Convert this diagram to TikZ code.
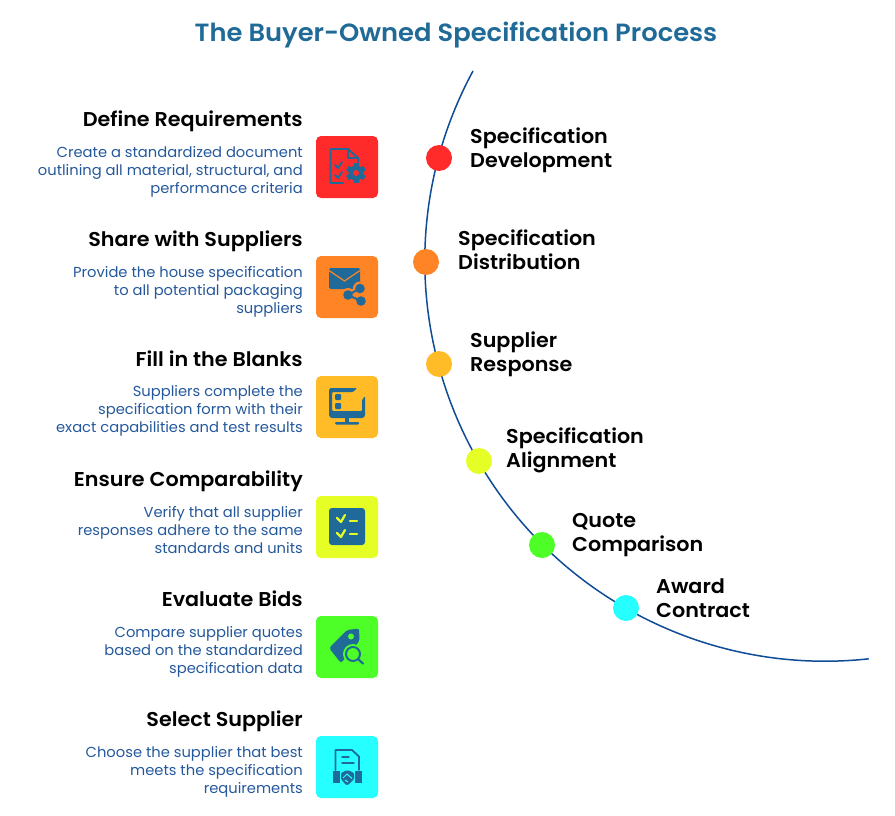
\documentclass[tikz,border=0pt]{standalone}
\usepackage{fontspec}
\setmainfont{Poppins}
\newfontfamily\headfont[FakeStretch=1.035]{Poppins SemiBold}
\newfontfamily\descfont[FakeStretch=1.015]{Poppins}
\definecolor{titleblue}{HTML}{1F6A96}
\definecolor{descblue}{HTML}{24589C}
\definecolor{iconblue}{HTML}{1F6A99}
\definecolor{arcblue}{HTML}{0F4C96}
\definecolor{cRed}{HTML}{FF2A2A}
\definecolor{cOrange}{HTML}{FF8426}
\definecolor{cAmber}{HTML}{FFBC26}
\definecolor{cLime}{HTML}{E5FF26}
\definecolor{cGreen}{HTML}{4DFF26}
\definecolor{cCyan}{HTML}{26FFFF}
\tikzset{
 x=1pt,y=-1pt,
 heading/.style={anchor=east,inner sep=0pt,font=\fontsize{20}{22}\selectfont\headfont,text=black},
 desc/.style={anchor=east,align=right,inner sep=0pt,font=\fontsize{14.5}{18}\selectfont\descfont,text=descblue},
 tile/.style={minimum size=62pt,inner sep=0pt,rounded corners=5pt,fill=#1},
 dot/.style={circle,minimum size=26pt,inner sep=0pt,fill=#1},
 stagelabel/.style={anchor=west,align=left,inner sep=0pt,font=\fontsize{20}{24}\selectfont\headfont,text=black},
 icol/.style={draw=iconblue,line width=1.8pt,line cap=round,line join=round},
}
\begin{document}
\begin{tikzpicture}
\useasboundingbox (0,0) rectangle (895,816);
\node[inner sep=0pt,font=\fontsize{24.9}{28}\selectfont\headfont,text=titleblue] (title) at (456,35) {The Buyer-Owned Specification Process};
\coordinate (arcstart) at (473,71);
\draw[arcblue,line width=1.5pt] (arcstart) arc[start angle=208.4,end angle=83.7,radius=400] coordinate (arcend);
% dots
\node[dot=cRed] (d1) at (439,158) {};
\node[dot=cOrange] (d2) at (426,262) {};
\node[dot=cAmber] (d3) at (439,364) {};
\node[dot=cLime] (d4) at (479,461) {};
\node[dot=cGreen] (d5) at (542,545) {};
\node[dot=cCyan] (d6) at (626,608) {};
\node[stagelabel] (s1) at (470,150) {Specification\\Development};
\node[stagelabel] (s2) at (458,250) {Specification\\Distribution};
\node[stagelabel] (s3) at (470,354) {Supplier\\Response};
\node[stagelabel] (s4) at (506,450) {Specification\\Alignment};
\node[stagelabel] (s5) at (572,535) {Quote\\Comparison};
\node[stagelabel] (s6) at (656,598) {Award\\Contract};
% tiles
\node[tile=cRed] (t1) at (347,167) {};
\node[tile=cOrange] (t2) at (347,287) {};
\node[tile=cAmber] (t3) at (347,407) {};
\node[tile=cLime] (t4) at (347,527) {};
\node[tile=cGreen] (t5) at (347,647) {};
\node[tile=cCyan] (t6) at (347,767) {};
% headings
\node[heading] (h1) at (303,121) {Define Requirements};
\node[heading] (h2) at (303,241) {Share with Suppliers};
\node[heading] (h3) at (303,359) {Fill in the Blanks};
\node[heading] (h4) at (303,481) {Ensure Comparability};
\node[heading] (h5) at (303,599) {Evaluate Bids};
\node[heading] (h6) at (303,721) {Select Supplier};
\node[desc] (p1) at (303,172) {Create a standardized document\\outlining all material, structural, and\\performance criteria};
\node[desc] (p2) at (303,292) {Provide the house specification\\to all potential packaging\\suppliers};
\node[desc] (p3) at (303,411) {Suppliers complete the\\specification form with their\\exact capabilities and test results};
\node[desc] (p4) at (303,530) {Verify that all supplier\\responses adhere to the same\\standards and units};
\node[desc] (p5) at (303,652) {Compare supplier quotes\\based on the standardized\\specification data};
\node[desc] (p6) at (303,772) {Choose the supplier that best\\meets the specification\\requirements};
% icon 1: document + gear
\draw[icol] (358,162) -- (358,158) -- (348,149) -- (330.5,149) -- (330.5,183) -- (343,183);
\draw[icol,line width=1.2pt] (348,149) -- (348,158) -- (358,158);
\draw[icol] (335,165) -- (338,168) -- (342,162);
\draw[icol] (335,175) -- (338,178) -- (342,172);
\fill[iconblue] (356,173) circle (7.5);
\foreach \a in {0,60,...,300}{\fill[iconblue,shift={(356,173)},rotate=\a] (-2.5,-10) rectangle (2.5,-6);}
\fill[cRed] (356,173) circle (3);
% icon 2: envelope + share
\fill[iconblue,rounded corners=1.5pt] (329,268) rectangle (360,289);
\draw[cOrange,line width=1.2pt] (329,270.5) -- (344.5,281) -- (360,270.5);
\fill[cOrange] (360,288.5) circle (7);
\fill[cOrange] (348,295) circle (7);
\draw[iconblue,line width=2pt] (348,295) -- (360,288.5) (348,295) -- (361,301);
\fill[iconblue] (348,295) circle (4.8);
\fill[iconblue] (360,288.5) circle (4.8);
\fill[iconblue] (361,301) circle (4.8);
% icon 3: monitor
\fill[iconblue,rounded corners=1pt] (357,388) -- (330,388) -- (329,390) -- (329,416) -- (331,418) -- (363,418) -- (365,416) -- (365,396) -- (362,400) -- (362,411) -- (332,411) -- (332,392) -- (353,392) -- cycle;
\fill[iconblue,rounded corners=1pt] (335,394) rectangle (341,400);
\fill[iconblue,rounded corners=1pt] (335,403) rectangle (341,409);
\fill[iconblue] (345,417) rectangle (348.5,423);
\fill[iconblue,rounded corners=1pt] (335,422) rectangle (359,424.5);
% icon 4: checklist
\fill[iconblue,rounded corners=3pt] (329,508) rectangle (365,545);
\draw[cLime,line width=2.2pt,line cap=round,line join=round] (337,518) -- (341,522) -- (345,515);
\draw[cLime,line width=2.2pt,line cap=round,line join=round] (337,533) -- (341,537) -- (345,530);
\draw[cLime,line width=2.2pt,line cap=round] (350,521) -- (357,521) (350,534) -- (357,534);
% icon 5: tag + magnifier
\fill[iconblue,rounded corners=2pt] (329,648) -- (347,630) -- (359,628.5) -- (359.5,641) -- (341,663) -- cycle;
\fill[cGreen] (351,636.5) circle (3);
\fill[cGreen] (353,654) circle (10);
\draw[iconblue,line width=2pt] (353,654) circle (7);
\draw[iconblue,line width=2.2pt,line cap=round] (358.5,659.5) -- (363,663.5);
% icon 6: contract + handshake
\draw[icol] (335.5,770) -- (335.5,750) -- (352,750) -- (359,756.5) -- (359,770);
\draw[icol,line width=1.4pt] (342,757) -- (349,757) (342,763) -- (354,763);
\fill[iconblue] (332.5,771) rectangle (340,783);
\fill[iconblue] (354.5,771) rectangle (362,783);
\fill[iconblue,rounded corners=1pt] (341,773) -- (346,770.5) -- (349,770.5) -- (354,773) -- (354,779) -- (348,785) -- (346,785) -- (341,779) -- cycle;
\draw[cCyan,line width=1pt,line join=round] (343,778) -- (347,774) -- (352,778.5) (345,780) -- (348,782);
\end{tikzpicture}
\end{document}
